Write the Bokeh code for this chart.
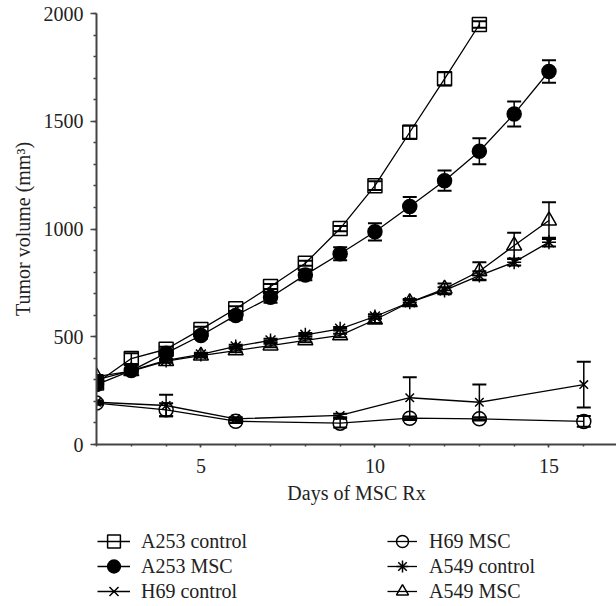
from bokeh.plotting import figure
from bokeh.layouts import column
from bokeh.models import (Range1d, SingleIntervalTicker, Legend, LegendItem,
                          ColumnDataSource, Whisker, TeeHead)
from bokeh.embed import file_html
from bokeh.resources import INLINE

# ---------------- data ----------------
days_a253_ctrl = [2, 3, 4, 5, 6, 7, 8, 9, 10, 11, 12, 13]
a253_ctrl = [285, 399, 442, 534, 630, 733, 841, 1002, 1201, 1449, 1697, 1949]
a253_ctrl_err = [12, 25, 12, 12, 12, 12, 12, 12, 20, 30, 30, 15]

days_a = [2, 3, 4, 5, 6, 7, 8, 9, 10, 11, 12, 13, 14, 15]
a253_msc = [278, 343, 424, 506, 599, 683, 787, 885, 987, 1104, 1224, 1361, 1534, 1731]
a253_msc_err = [12, 12, 12, 15, 20, 25, 25, 30, 40, 44, 47, 60, 58, 52]

a549_ctrl = [300, 343, 390, 418, 455, 483, 509, 537, 594, 660, 715, 784, 846, 939]
a549_ctrl_err = [8, 8, 8, 8, 8, 8, 8, 8, 10, 10, 15, 20, 15, 20]

a549_msc = [315, 340, 387, 412, 436, 459, 483, 506, 579, 660, 722, 804, 923, 1039]
a549_msc_err = [8, 8, 8, 8, 8, 8, 8, 8, 15, 15, 25, 42, 60, 85]

days_h69 = [2, 4, 6, 9, 11, 13, 16]
h69_ctrl = [196, 181, 119, 135, 217, 196, 278]
h69_ctrl_err = [8, 50, 8, 8, 95, 82, 106]
h69_msc = [192, 161, 108, 99, 122, 119, 107]
h69_msc_err = [8, 30, 8, 20, 8, 8, 25]

x_label = "Days of MSC Rx"
y_label = "Tumor volume (mm\u00b3)"

FONT = "Liberation Serif"
FS = "20px"

p = figure(width=616, height=510, output_backend="svg",
           toolbar_location=None,
           x_range=Range1d(2, 16.94), y_range=Range1d(0, 2000),
           min_border_left=96, min_border_top=13, min_border_right=0,
           min_border_bottom=66)
p.outline_line_color = None
p.xgrid.visible = False
p.ygrid.visible = False

p.xaxis.ticker = SingleIntervalTicker(interval=5, num_minor_ticks=5)
p.yaxis.ticker = SingleIntervalTicker(interval=500, num_minor_ticks=5)
for ax in (p.xaxis, p.yaxis):
    ax.axis_line_width = 2
    ax.axis_line_color = "#444444"
    ax.major_tick_line_color = "#444444"
    ax.minor_tick_line_color = "#444444"
    ax.major_tick_line_width = 1.5
    ax.minor_tick_line_width = 1.5
    ax.major_tick_in = 0
    ax.minor_tick_in = 0
    ax.major_label_text_font = FONT
    ax.major_label_text_font_size = FS
    ax.major_label_text_color = "#222222"
    ax.axis_label_text_font = FONT
    ax.axis_label_text_font_size = FS
    ax.axis_label_text_font_style = "normal"
    ax.axis_label_text_color = "#222222"
p.yaxis.major_tick_out = 6
p.yaxis.minor_tick_out = 3
p.xaxis.major_tick_out = 3
p.xaxis.minor_tick_out = 2
p.yaxis.major_label_standoff = 7
p.xaxis.major_label_standoff = 11
p.xaxis.axis_label = x_label
p.yaxis.axis_label = y_label
p.xaxis.axis_label_standoff = 6
p.yaxis.axis_label_standoff = 7

series = [
    ("A253 control", days_a253_ctrl, a253_ctrl, a253_ctrl_err, "square", 14, "white", 0.0),
    ("A253 MSC", days_a, a253_msc, a253_msc_err, "circle", 14, "black", 1.0),
    ("H69 control", days_h69, h69_ctrl, h69_ctrl_err, "x", 12, "black", 0.0),
    ("H69 MSC", days_h69, h69_msc, h69_msc_err, "circle", 14, "white", 0.0),
    ("A549 control", days_a, a549_ctrl, a549_ctrl_err, "asterisk", 14, "black", 0.0),
    ("A549 MSC", days_a, a549_msc, a549_msc_err, "triangle", 15, "white", 0.0),
]

# legend strip below the chart (its renderers share the data but lie outside its view)
p2 = figure(width=616, height=100, output_backend="svg", toolbar_location=None,
            x_axis_type=None, y_axis_type=None, min_border=0,
            x_range=Range1d(100, 101), y_range=Range1d(-100, -99))
p2.outline_line_color = None
p2.xgrid.visible = False
p2.ygrid.visible = False

items = []
for name, xs, ys, es, marker, size, fill, falpha in series:
    src = ColumnDataSource(dict(x=xs, y=ys,
                                lo=[y - e for y, e in zip(ys, es)],
                                hi=[y + e for y, e in zip(ys, es)]))
    w = Whisker(source=src, base="x", lower="lo", upper="hi",
                line_color="black", line_width=1.5,
                upper_head=TeeHead(size=14, line_width=2, line_color="black"),
                lower_head=TeeHead(size=14, line_width=2, line_color="black"))
    p.add_layout(w)
    p.line("x", "y", source=src, line_color="black", line_width=1.3)
    p.scatter("x", "y", source=src, marker=marker, size=size,
              line_color="black", line_width=1.5,
              fill_color=fill, fill_alpha=falpha)
    ln2 = p2.line("x", "y", source=src, line_color="black", line_width=1.3)
    sc2 = p2.scatter("x", "y", source=src, marker=marker, size=size,
                     line_color="black", line_width=1.5,
                     fill_color=fill, fill_alpha=falpha)
    items.append(LegendItem(label=name, renderers=[ln2, sc2]))

common = dict(orientation="vertical", margin=0, padding=0, glyph_height=32,
              label_text_font=FONT, label_text_font_size=FS,
              label_text_color="#222222",
              border_line_alpha=0, background_fill_alpha=0)
row_y = [53, 28, 3]
for i, it in enumerate(items):
    col, row = divmod(i, 3)
    if col == 0:
        leg = Legend(items=[it], location=(1, row_y[row]),
                     glyph_width=33, label_standoff=11, **common)
    else:
        leg = Legend(items=[it], location=(291, row_y[row]),
                     glyph_width=30, label_standoff=12, **common)
    p2.add_layout(leg)

open("out.html", "w").write(file_html(column(p, p2, spacing=0), INLINE))
